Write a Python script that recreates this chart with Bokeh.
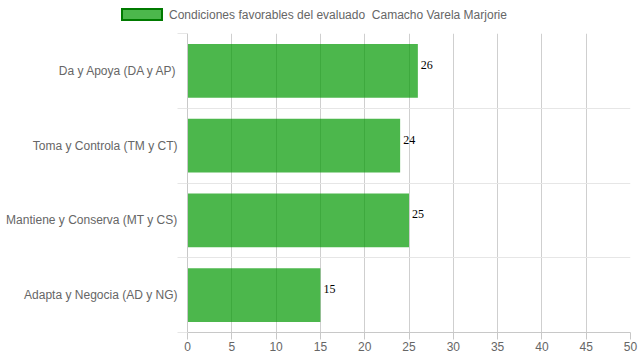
from bokeh.plotting import figure
from bokeh.layouts import column
from bokeh.models import ColumnDataSource, FixedTicker, Range1d, Div
from bokeh.core.properties import value
from bokeh.embed import file_html
from bokeh.resources import INLINE

categories = ["Da y Apoya (DA y AP)", "Toma y Controla (TM y CT)",
              "Mantiene y Conserva (MT y CS)", "Adapta y Negocia (AD y NG)"]
values = [26, 24, 25, 15]
series_name = "Condiciones favorables del evaluado  Camacho Varela Marjorie"
x_ticks = [0, 5, 10, 15, 20, 25, 30, 35, 40, 45, 50]

n = len(categories)
ypos = [n - 1 - i + 0.5 for i in range(n)]
src = ColumnDataSource(dict(y=ypos, v=values, lab=[str(v) for v in values], cat=categories))

BAR_FILL = "#009900"
BAR_ALPHA = 0.7

# ---- legend strip (HTML) ----
legend_html = (
    '<div style="padding:8px 0 0 121px;margin:0;font-family:\'Liberation Sans\';'
    'font-size:12px;line-height:14px;color:#666666;white-space:pre;">'
    '<span style="display:inline-block;box-sizing:border-box;width:42px;height:13px;'
    'background:rgba(0,153,0,0.7);border:2px solid #007a00;vertical-align:-2px;'
    'margin-right:6px;"></span>' + series_name + '</div>'
)
top = Div(text=legend_html, width=639, height=32, margin=(0, 0, 0, 0))

# ---- main chart ----
p = figure(width=639, height=328, output_backend="svg", toolbar_location=None,
           x_range=Range1d(0, 50), y_range=Range1d(0, n),
           min_border_left=187, min_border_right=9, min_border_top=1, min_border_bottom=28)
p.outline_line_color = None
p.background_fill_color = "white"
p.border_fill_color = "white"

p.hbar(y="y", right="v", left=0, height=0.72, source=src,
       fill_color=BAR_FILL, fill_alpha=BAR_ALPHA, line_color=None)

p.text(x="v", y="y", text="lab", source=src, x_offset=3, y_offset=-6,
       text_font=value("Liberation Serif"), text_font_size="12px",
       text_color="black", text_align="left", text_baseline="middle")

# x axis
p.xaxis.ticker = FixedTicker(ticks=x_ticks)
p.xaxis.axis_line_color = "#c8c8c8"
p.xaxis.major_tick_line_color = "#c8c8c8"
p.xaxis.major_tick_out = 7
p.xaxis.major_tick_in = 0
p.xaxis.minor_tick_line_color = None
p.xaxis.major_label_standoff = 2
p.xaxis.major_label_text_font = "Liberation Sans"
p.xaxis.major_label_text_font_size = "12px"
p.xaxis.major_label_text_color = "#666666"
p.xgrid.ticker = FixedTicker(ticks=x_ticks)
p.xgrid.grid_line_color = "#cfcfcf"

# y axis
p.yaxis.ticker = FixedTicker(ticks=ypos, minor_ticks=list(range(n + 1)))
p.yaxis.major_label_overrides = {y: c for y, c in zip(ypos, categories)}
p.yaxis.axis_line_color = "#c8c8c8"
p.yaxis.major_tick_line_color = None
p.yaxis.major_tick_out = 0
p.yaxis.major_tick_in = 0
p.yaxis.minor_tick_line_color = "#e6e6e6"
p.yaxis.minor_tick_out = 10
p.yaxis.minor_tick_in = 0
p.yaxis.major_label_standoff = 0
p.yaxis.major_label_text_font = "Liberation Sans"
p.yaxis.major_label_text_font_size = "12px"
p.yaxis.major_label_text_color = "#666666"
p.ygrid.ticker = FixedTicker(ticks=list(range(n + 1)))
p.ygrid.grid_line_color = "#e6e6e6"

layout = column(top, p, spacing=0)
open("out.html", "w").write(file_html(layout, INLINE))
